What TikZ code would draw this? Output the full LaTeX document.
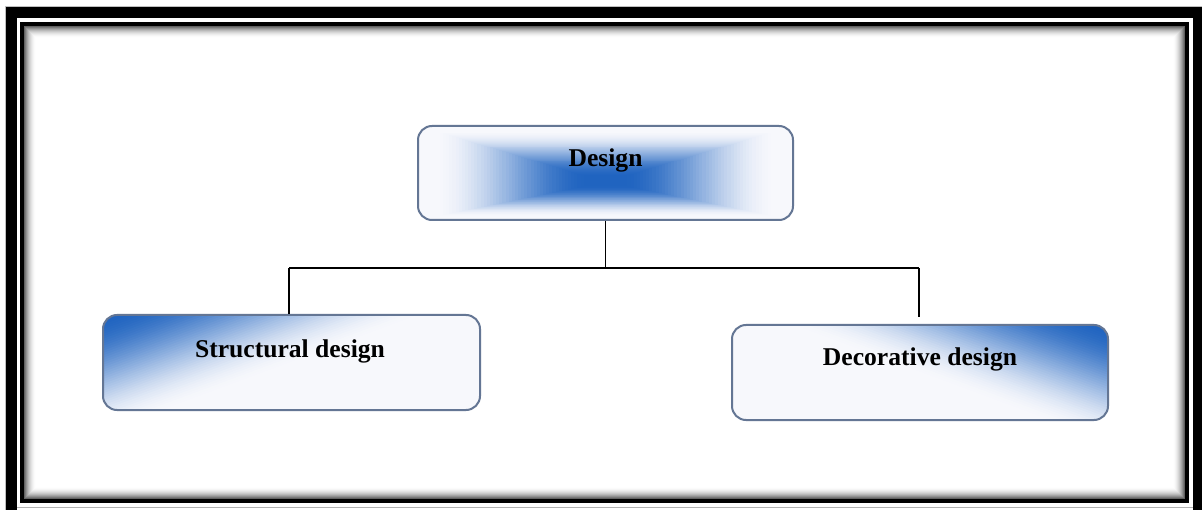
\documentclass[tikz,border=0pt]{standalone}
\usepackage{fontspec}
\setmainfont{Liberation Serif}
\definecolor{bblue}{RGB}{32,100,192}
\definecolor{bwhite}{RGB}{247,248,252}
\definecolor{bord}{RGB}{100,118,148}
\tikzset{
  boxst/.style={draw=bord, line width=2pt, rounded corners=14pt, inner sep=0pt, fill=none},
  lbl/.style={font=\fontsize{25.6}{30}\selectfont\bfseries, anchor=base, inner sep=0pt},
  conn/.style={draw=black, line width=1.6pt}
}
\begin{document}
\begin{tikzpicture}[x=1pt,y=-1pt]
\useasboundingbox (0,0) rectangle (1202,510);
\fill[white] (0,0) rectangle (1202,510);
% outer frame
\fill[black] (5.5,7) rectangle (1202,510);
\draw[black!25, line width=1pt] (5,510) -- (5,6.5) -- (1202,6.5);
\fill[white] (17,18.5) rectangle (1192.5,510);
\draw[black!30, line width=1pt] (17,507.5) -- (1192.5,507.5);
% inner shadow
\foreach \k in {0,...,11} {
  \pgfmathsetmacro\g{62*(1-\k/12)*(1-\k/12)}
  \draw[black!\g, line width=1.05pt] (24.5+\k,26.5+\k) rectangle (1184.5-\k,498.5-\k);
}
\draw[black, line width=4pt] (22,24) rectangle (1187,501);

% Design gradient (rectangular, from centre)
\begin{scope}
  \clip[rounded corners=14pt] (418,126) rectangle (793,220);
  \fill[bwhite] (418,126) rectangle (793,220);
  \foreach \i in {0,...,60} {
    \pgfmathsetmacro\s{1-\i/60}
    \pgfmathsetmacro\x{min(1,max(0,(\s-0.1)/0.82))}
    \pgfmathsetmacro\p{100*(1-\x*\x*(3-2*\x))}
    \fill[bblue!\p!bwhite] (605.5-187.5*\s,182-56*\s) rectangle (605.5+187.5*\s,182+38*\s);
  }
\end{scope}

% Structural gradient (diagonal from top-left)
\begin{scope}
  \clip[rounded corners=14pt] (103,315) rectangle (480,410);
  \begin{scope}[shift={(103,315)}]
    \foreach \i in {0,...,50} {
      \pgfmathsetmacro\t{\i/50}
      \pgfmathsetmacro\p{100*(1-\t*\t*(3-2*\t))}
      \fill[bblue!\p!bwhite] ({0.85*(\t+0.8)*377},-95) -- ({0.85*(\t-1.6)*377},190) -- (1508,190) -- (1508,-95) -- cycle;
    }
  \end{scope}
\end{scope}

% Decorative gradient (diagonal from top-right)
\begin{scope}
  \clip[rounded corners=14pt] (732,325) rectangle (1108,420);
  \begin{scope}[shift={(1108,325)}, xscale=-1]
    \foreach \i in {0,...,50} {
      \pgfmathsetmacro\t{\i/50}
      \pgfmathsetmacro\p{100*(1-\t*\t*(3-2*\t))}
      \fill[bblue!\p!bwhite] ({0.85*(\t+0.8)*376},-95) -- ({0.85*(\t-1.6)*376},190) -- (1504,190) -- (1504,-95) -- cycle;
    }
  \end{scope}
\end{scope}

% boxes
\node[boxst, minimum width=375pt, minimum height=94pt] (des) at (605.5,173) {};
\node[boxst, minimum width=377pt, minimum height=95pt] (str) at (291.5,362.5) {};
\node[boxst, minimum width=376pt, minimum height=95pt] (dec) at (920,372.5) {};

% labels
\node[lbl] (desT) at (605.5,167) {Design};
\node[lbl] (strT) at (290,358) {Structural design};
\node[lbl] (decT) at (920,366) {Decorative design};

% connectors
\coordinate (hl) at (289,268);
\coordinate (hr) at (919,268);
\coordinate (dtop) at (919,317);
\draw[conn] (des.south) -- (des.south |- hl);
\draw[conn] (hl) -- (hr);
\draw[conn] (hl) -- (hl |- str.north);
\draw[conn] (hr) -- (dtop);
\end{tikzpicture}
\end{document}
